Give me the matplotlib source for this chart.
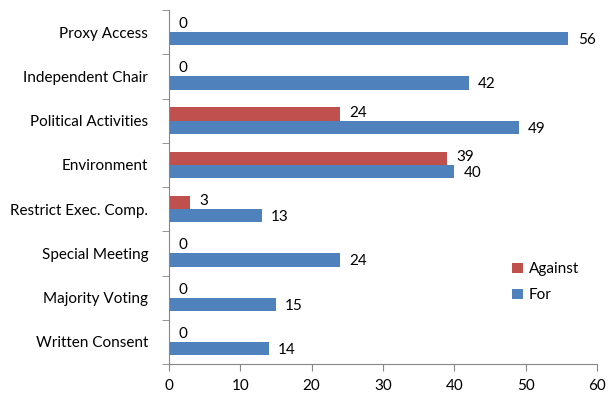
import matplotlib.pyplot as plt
import numpy as np

plt.rcParams['font.family'] = ['Lato', 'DejaVu Sans']

categories = ["Proxy Access", "Independent Chair", "Political Activities", "Environment",
              "Restrict Exec. Comp.", "Special Meeting", "Majority Voting", "Written Consent"]
for_votes = [56, 42, 49, 40, 13, 24, 15, 14]
against_votes = [0, 0, 24, 39, 3, 0, 0, 0]

fig = plt.figure(figsize=(6.15, 4.03), dpi=100)
ax = fig.add_axes([169 / 615, 1 - 364 / 403, (597 - 169) / 615, (364 - 10) / 403])

y = np.arange(len(categories))[::-1]
h = 0.3
ax.barh(y - h / 2, for_votes, height=h, color="#4F81BD", label="For")
ax.barh(y + h / 2, against_votes, height=h, color="#C0504D", label="Against")

fs = 11
for yy, v in zip(y, for_votes):
    ax.text(v + 1.3, yy - h / 2 - 0.03, str(v), va="center", ha="left", fontsize=fs)
for yy, v in zip(y, against_votes):
    ax.text(v + 1.3, yy + h / 2 + 0.03, str(v), va="center", ha="left", fontsize=fs)

ax.set_xlim(0, 60)
ax.set_ylim(-0.5, len(categories) - 0.5)
ax.set_xticks(range(0, 61, 10))
ax.set_yticks(y)
ax.set_yticklabels(categories, fontsize=fs)
ax.set_yticks(np.arange(-0.5, len(categories), 1), minor=True)
ax.tick_params(axis="y", which="major", length=0, pad=15)
ax.tick_params(axis="y", which="minor", length=5, color="#868686")
ax.tick_params(axis="x", length=5, color="#868686", labelsize=fs, pad=6)
for s in ["top", "right"]:
    ax.spines[s].set_visible(False)
for s in ["left", "bottom"]:
    ax.spines[s].set_color("#868686")

handles, labels = ax.get_legend_handles_labels()
ax.legend(handles[::-1], labels[::-1], loc="lower left", bbox_to_anchor=(0.77, 0.135),
          frameon=False, fontsize=fs, handlelength=0.7, handleheight=0.7,
          handletextpad=0.4, labelspacing=0.8)

fig.savefig("out.png", dpi=100)
